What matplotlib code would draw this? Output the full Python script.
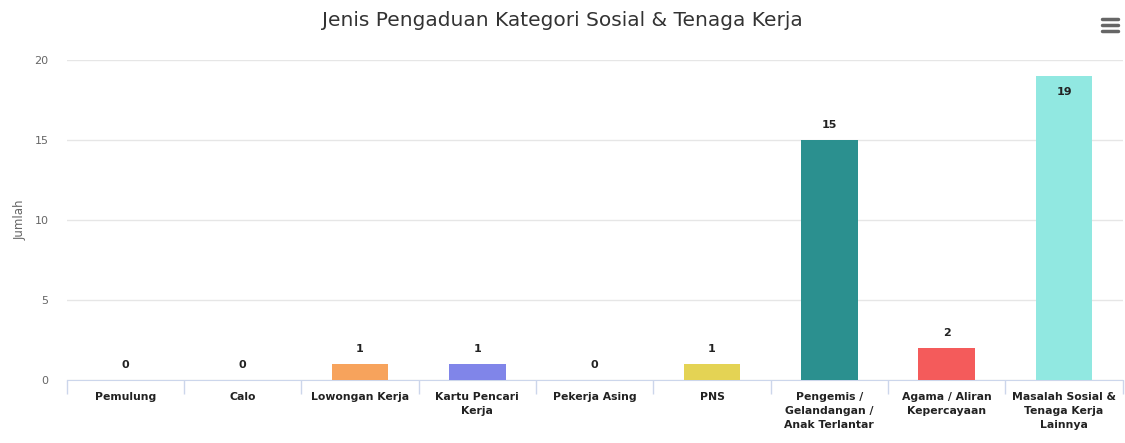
import numpy as np
from matplotlib import pyplot as plt
from matplotlib.lines import Line2D

# Data kategori dan jumlah pengaduan
kategori = ["Pemulung", "Calo", "Lowongan Kerja", "Kartu Pencari\nKerja", "Pekerja Asing",
            "PNS", "Pengemis /\nGelandangan /\nAnak Terlantar", "Agama / Aliran\nKepercayaan",
            "Masalah Sosial &\nTenaga Kerja\nLainnya"]
jumlah = [0, 0, 1, 1, 0, 1, 15, 2, 19]
warna = ["#434348", "#90ed7d", "#f7a35c", "#8085e9", "#f15c80",
         "#e4d354", "#2b908f", "#f45b5b", "#91e8e1"]

plt.rcParams['font.family'] = ['DejaVu Sans']

fig = plt.figure(figsize=(11.25, 4.43), dpi=100)
ax = fig.add_axes([66.7/1125, 1 - 380/443, 1056/1125, 320/443])

x = np.arange(len(kategori))
ax.bar(x, jumlah, width=0.485, color=warna, zorder=3)

ax.set_xlim(-0.5, len(kategori) - 0.5)
ax.set_ylim(0, 20)
ax.set_yticks([0, 5, 10, 15, 20])
ax.grid(axis="y", color="#e6e6e6", linewidth=1, zorder=0)
ax.tick_params(axis="y", length=0, labelsize=8, labelcolor="#666666", pad=13)

# label kategori
ax.set_xticks(x)
ax.set_xticklabels(kategori, fontsize=7.8, fontweight="bold", color="#222222", linespacing=1.5)
ax.tick_params(axis="x", which="major", length=0, pad=9)
ax.set_xticks(np.arange(-0.5, len(kategori)), minor=True)
ax.tick_params(axis="x", which="minor", length=10, color="#ccd6eb", width=1)

for s in ["top", "right", "left"]:
    ax.spines[s].set_visible(False)
ax.spines["bottom"].set_color("#ccd6eb")

ax.set_ylabel("Jumlah", fontsize=8.5, color="#666666")
ax.yaxis.set_label_coords(-0.038, 0.5)

# label nilai di atas batang
for xi, v in zip(x, jumlah):
    if v >= 19:
        ax.annotate(str(v), (xi, v), xytext=(0, -8), textcoords="offset points",
                    ha="center", va="top", fontsize=8, fontweight="bold", color="#222222", zorder=4)
    else:
        ax.annotate(str(v), (xi, v), xytext=(0, 7), textcoords="offset points",
                    ha="center", va="bottom", fontsize=8, fontweight="bold", color="#222222", zorder=4)

fig.text(0.5, 1 - 20/443, "Jenis Pengaduan Kategori Sosial & Tenaga Kerja",
         ha="center", va="center", fontsize=14.5, color="#333333")

# ikon menu
for yy in [19, 25, 31]:
    fig.add_artist(Line2D([1102/1125, 1118/1125], [1 - yy/443, 1 - yy/443],
                          color="#666666", linewidth=2.5, solid_capstyle="round"))

plt.savefig("out.png", dpi=100)
